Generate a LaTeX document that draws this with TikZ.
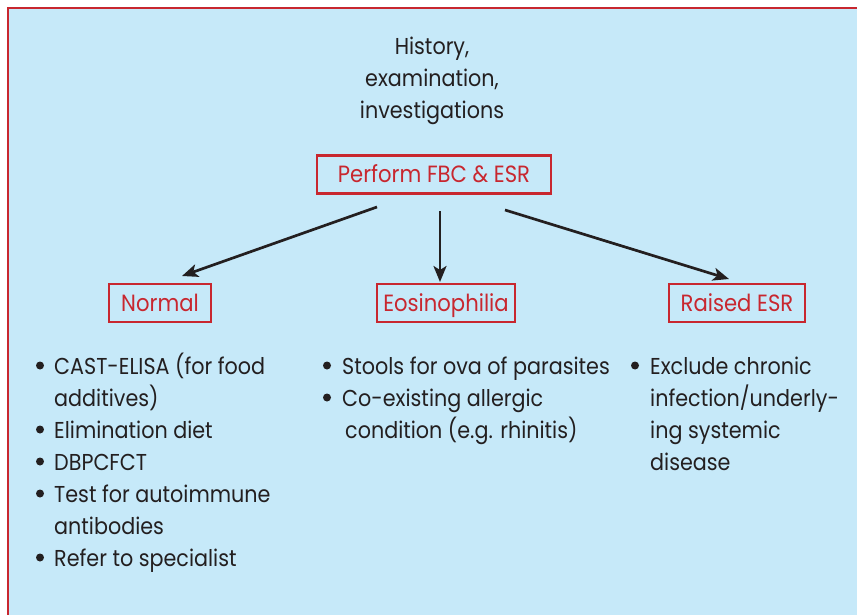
\documentclass[tikz,border=0pt]{standalone}
\usepackage{fontspec}
\setmainfont{Poppins}[FakeStretch=0.9]
\usetikzlibrary{arrows.meta}
\definecolor{bgblue}{HTML}{C6E9F9}
\definecolor{boxred}{HTML}{C8272F}
\definecolor{ink}{HTML}{231F20}
\tikzset{
  txt/.style={inner sep=0pt, anchor=base west, text=ink, font=\fontsize{23}{32}\selectfont},
  ctr/.style={inner sep=0pt, anchor=base, text=ink, font=\fontsize{23}{32}\selectfont},
  redbox/.style={draw=boxred, line width=2.7pt, text=boxred, inner sep=0pt,
     font=\fontsize{23.5}{28}\selectfont, minimum height=38pt, text height=16pt, text depth=0pt},
  arr/.style={draw=ink, line width=2.7pt, -{Stealth[length=16pt,width=13pt,inset=4pt]}},
  dot/.style={circle, fill=ink, inner sep=0pt, minimum size=8pt}
}
\begin{document}
\begin{tikzpicture}[x=1pt,y=-1pt]
\useasboundingbox (0,0) rectangle (857,615);
\fill[white] (0,0) rectangle (857,615);
\draw[fill=bgblue, draw=boxred, line width=2pt] (8,8) rectangle (870,630);

% title
\node[ctr] (t1) at (432,55) {History,};
\node[ctr] (t2) at (432,87) {examination,};
\node[ctr] (t3) at (432,119) {investigations};

% boxes
\node[redbox, minimum width=234pt] (fbc) at (434,174.5) {Perform FBC \& ESR};
\node[redbox, minimum width=102pt] (normal) at (160,303) {Normal};
\node[redbox, minimum width=138pt] (eos) at (446,303) {Eosinophilia};
\node[redbox, minimum width=136pt] (esr) at (737,303) {Raised ESR};

% arrows
\coordinate (s1) at (377,207);
\coordinate (e1) at (182,276);
\coordinate (s2) at (440,211);
\coordinate (e2) at (440,282);
\coordinate (s3) at (505,210);
\coordinate (e3) at (729,279);
\draw[arr] (s1) -- (e1);
\draw[arr] (s2) -- (e2);
\draw[arr] (s3) -- (e3);

% left column
\node[dot] (b1) at (40,365.5) {};
\node[txt] (l1) at (54,374) {CAST-ELISA (for food};
\node[txt] (l2) at (54,406) {additives)};
\node[dot] (b2) at (40,429.5) {};
\node[txt] (l3) at (54,438) {Elimination diet};
\node[dot] (b3) at (40,461.5) {};
\node[txt] (l4) at (54,470) {DBPCFCT};
\node[dot] (b4) at (40,493.5) {};
\node[txt] (l5) at (54,502) {Test for autoimmune};
\node[txt] (l6) at (54,534) {antibodies};
\node[dot] (b5) at (40,557.5) {};
\node[txt] (l7) at (54,566) {Refer to specialist};

% middle column
\node[dot] (m1) at (327,365.5) {};
\node[txt] (c1) at (342,374) {Stools for ova of parasites};
\node[dot] (m2) at (327,397.5) {};
\node[txt] (c2) at (342,406) {Co-existing allergic};
\node[txt] (c3) at (345,438) {condition (e.g. rhinitis)};

% right column
\node[dot] (r1) at (635,365.5) {};
\node[txt] (d1) at (650,374) {Exclude chronic};
\node[txt] (d2) at (650,406) {infection/underly-};
\node[txt] (d3) at (650,438) {ing systemic};
\node[txt] (d4) at (650,470) {disease};
\end{tikzpicture}
\end{document}
